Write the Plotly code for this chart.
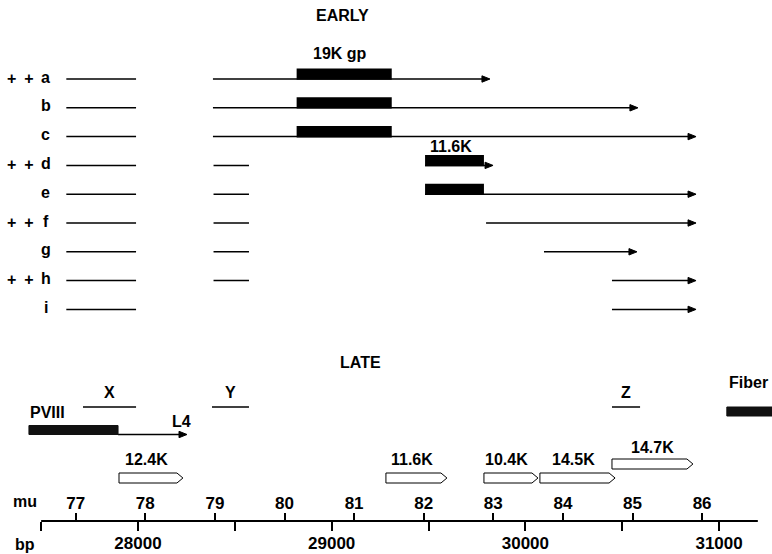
import plotly.graph_objects as go

# ---------------- data (bp coordinates) ----------------
row_names = ["a", "b", "c", "d", "e", "f", "g", "h", "i"]
row_plus = [True, False, False, True, False, True, False, True, False]
# plain segments (no arrow) per row
plain_segs = [
    [(27630, 27990)],
    [(27630, 27990)],
    [(27630, 27990)],
    [(27630, 27990), (28390, 28573)],
    [(27630, 27990), (28390, 28573)],
    [(27630, 27990), (28390, 28573)],
    [(27630, 27990), (28390, 28573)],
    [(27630, 27990), (28390, 28573)],
    [(27630, 27990)],
]
# arrowed segment per row (start, tip)
arrow_segs = [
    (28387, 29817), (28387, 30581), (28387, 30881),
    (29482, 29833), (29482, 30881), (29797, 30881),
    (30096, 30576), (30447, 30881), (30447, 30881),
]
# filled coding boxes on early rows: (row index, start, end)
early_boxes = [(0, 28819, 29310), (1, 28819, 29310), (2, 28819, 29310),
               (3, 29482, 29786), (4, 29482, 29786)]
box_19k_label = ("19K gp", 29043)
box_116k_label = ("11.6K", 29616)

# LATE region
late_bars = {"X": (27716, 27990), "Y": (28382, 28573), "Z": (30447, 30592)}
pviii = (27437, 27897)
l4_arrow = (27897, 28253)
fiber = (31040, 31290)
orf_names = ["12.4K", "11.6K", "10.4K", "14.5K", "14.7K"]
orf_start = [27902, 29280, 29786, 30075, 30447]
orf_end = [28232, 29595, 30065, 30463, 30865]
orf_level = [0, 0, 0, 0, 1]  # 14.7K sits higher

# scale
bp_ticks = [27500, 28000, 28500, 29000, 29500, 30000, 30500, 31000]
bp_ticklabels = ["", "28000", "", "29000", "", "30000", "", "31000"]
mu_ticks = [77, 78, 79, 80, 81, 82, 83, 84, 85, 86]
ruler = (27500, 31200)

# ---------------- layout helpers ----------------
PX_PER_BP = 0.1937
X0 = 27287.6
X1 = X0 + 772 / PX_PER_BP
MU0, MU_PX = 75.912, 69.6
ROW_Y0, ROW_DY = 79, 28.8
FONT = "Liberation Sans, Arial, sans-serif"
FS = 16


def bp_of_px(p):
    return p / PX_PER_BP


def row_y(i):
    return ROW_Y0 + i * ROW_DY


fig = go.Figure()
shapes = []
ann = []

# plain lines
lx, ly = [], []
for i, segs in enumerate(plain_segs):
    for s, e in segs:
        lx += [s, e, None]
        ly += [row_y(i), row_y(i), None]
# arrow lines + heads
hx, hy = [], []
head_len = bp_of_px(8)
for i, (s, e) in enumerate(arrow_segs):
    y = row_y(i)
    lx += [s, e - head_len * 0.6, None]
    ly += [y, y, None]
    hx += [e - head_len, e, e - head_len, e - head_len, None]
    hy += [y - 3.2, y, y + 3.2, y - 3.2, None]

# LATE lines
for k, (s, e) in late_bars.items():
    lx += [s, e, None]
    ly += [407, 407, None]
lx += [l4_arrow[0], l4_arrow[1] - head_len * 0.6, None]
ly += [434.5, 434.5, None]
hx += [l4_arrow[1] - head_len, l4_arrow[1], l4_arrow[1] - head_len, l4_arrow[1] - head_len, None]
hy += [434.5 - 3.2, 434.5, 434.5 + 3.2, 434.5 - 3.2, None]

fig.add_trace(go.Scatter(x=lx, y=ly, mode="lines", line=dict(color="black", width=1.5),
                         hoverinfo="skip", showlegend=False))
# ruler line
fig.add_trace(go.Scatter(x=list(ruler), y=[521, 521], mode="lines",
                         line=dict(color="black", width=1.8), hoverinfo="skip", showlegend=False))
fig.add_trace(go.Scatter(x=hx, y=hy, mode="lines", fill="toself", fillcolor="black",
                         line=dict(color="black", width=1), hoverinfo="skip", showlegend=False))

# filled boxes
for i, s, e in early_boxes:
    y = row_y(i)
    shapes.append(dict(type="rect", xref="x", yref="y", x0=s, x1=e, y0=y - 10.5, y1=y + 0.8,
                       fillcolor="black", line=dict(width=0)))
shapes.append(dict(type="rect", xref="x", yref="y", x0=pviii[0], x1=pviii[1], y0=425.5, y1=434.5,
                   fillcolor="#111", line=dict(color="#111", width=1)))
shapes.append(dict(type="rect", xref="x", yref="y", x0=fiber[0], x1=fiber[1], y0=407, y1=416,
                   fillcolor="#111", line=dict(color="#111", width=1)))

# open pentagon arrows (ORFs)
tip = bp_of_px(6)
for name, s, e, lev in zip(orf_names, orf_start, orf_end, orf_level):
    yc = 478 if lev == 0 else 464
    h = 5
    fig.add_trace(go.Scatter(
        x=[s, e - tip, e, e - tip, s, s],
        y=[yc - h, yc - h, yc, yc + h, yc + h, yc - h],
        mode="lines", fill="toself", fillcolor="white",
        line=dict(color="black", width=1), hoverinfo="skip", showlegend=False))
    ann.append(dict(x=(s + e) / 2 + (bp_of_px(-4) if name != "14.7K" else 0),
                    y=(459.5 if lev == 0 else 447), text=name, showarrow=False))

# texts
ann.append(dict(x=29058, y=15, text="EARLY", showarrow=False))
ann.append(dict(x=box_19k_label[1], y=53, text=box_19k_label[0], showarrow=False))
ann.append(dict(x=box_116k_label[1], y=146, text=box_116k_label[0], showarrow=False))
for i, (nm, pl) in enumerate(zip(row_names, row_plus)):
    ann.append(dict(x=X0 + bp_of_px(45.5), y=row_y(i) - 2, text=nm, showarrow=False))
    if pl:
        ann.append(dict(x=X0 + bp_of_px(20.5), y=row_y(i) - 1, text="+\u2002+", showarrow=False))
ann.append(dict(x=29151, y=362, text="LATE", showarrow=False))
ann.append(dict(x=(late_bars["X"][0] + late_bars["X"][1]) / 2, y=392, text="X", showarrow=False))
ann.append(dict(x=(late_bars["Y"][0] + late_bars["Y"][1]) / 2, y=392, text="Y", showarrow=False))
ann.append(dict(x=(late_bars["Z"][0] + late_bars["Z"][1]) / 2, y=392, text="Z", showarrow=False))
ann.append(dict(x=X0 + bp_of_px(47), y=412, text="PVIII", showarrow=False))
ann.append(dict(x=X0 + bp_of_px(181), y=421, text="L4", showarrow=False))
ann.append(dict(x=X0 + bp_of_px(748), y=382, text="Fiber", showarrow=False))
ann.append(dict(x=X0 + bp_of_px(25), y=501, text="mu", showarrow=False))
ann.append(dict(x=X0 + bp_of_px(25), y=544, text="bp", showarrow=False))

for a in ann:
    a.setdefault("xref", "x")
    a.setdefault("yref", "y")
    a["font"] = dict(family=FONT, size=FS, color="black", weight="bold")

axis_pos = 1 - 521 / 554
tickfont = dict(family=FONT, size=FS + 1, color="black", weight="bold")
fig.update_layout(
    width=772, height=554, margin=dict(l=0, r=0, t=0, b=0),
    paper_bgcolor="white", plot_bgcolor="white",
    shapes=shapes, annotations=ann,
    xaxis=dict(range=[X0, X1], anchor="free", position=axis_pos, side="bottom",
               showline=False, showgrid=False, zeroline=False,
               tickmode="array", tickvals=bp_ticks, ticktext=bp_ticklabels,
               ticks="outside", ticklen=9, tickwidth=1.5, tickcolor="black",
               ticklabelstandoff=-2,
               tickfont=tickfont, automargin=False),
    xaxis2=dict(range=[MU0, MU0 + 772 / MU_PX], overlaying="x", anchor="free", position=axis_pos,
                side="top", showline=False, showgrid=False, zeroline=False,
                tickmode="array", tickvals=mu_ticks, ticktext=[str(m) for m in mu_ticks],
                ticks="outside", ticklen=8, tickwidth=1.5, tickcolor="black",
                ticklabelstandoff=-3,
                tickfont=tickfont, automargin=False),
    yaxis=dict(range=[554, 0], visible=False, domain=[0, 1]),
    showlegend=False,
)
# dummy trace to activate xaxis2
fig.add_trace(go.Scatter(x=[None], y=[None], xaxis="x2", showlegend=False, hoverinfo="skip"))

fig.write_html("out.html")
